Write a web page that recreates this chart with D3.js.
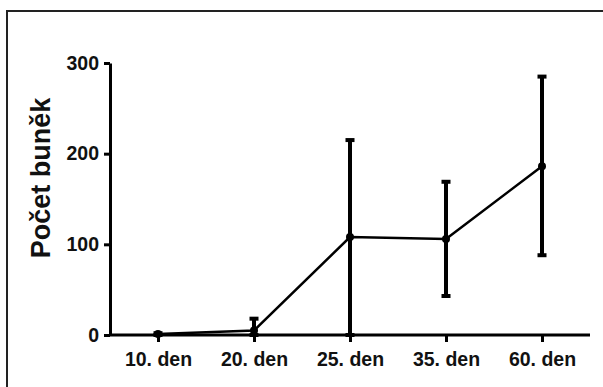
<!DOCTYPE html>
<html>
<head>
<meta charset="utf-8">
<script src="https://cdn.jsdelivr.net/npm/d3@7"></script>
<style>
  html, body { margin: 0; padding: 0; background: #fff; }
  svg text { font-family: "Liberation Sans", Arial, sans-serif; font-weight: bold; fill: #111; }
</style>
</head>
<body>
<svg id="chart" width="603" height="387"></svg>
<script>
// Cell counts per sampling day: mean with lower / upper error limits
const days = ["10. den", "20. den", "25. den", "35. den", "60. den"];
const means = [1, 5, 108, 106, 186];
const lower = [0, 0, 0, 43, 88];
const upper = [2, 18, 215, 169, 285];
const yTicks = [0, 100, 200, 300];
const yTitle = "Počet buněk";

const svg = d3.select("#chart");

// outer frame
svg.append("rect")
  .attr("x", 7).attr("y", 11)
  .attr("width", 700).attr("height", 500)
  .attr("fill", "none").attr("stroke", "#222").attr("stroke-width", 2);

const x = d3.scalePoint().domain(days).range([110, 590]).padding(0.5);
const y = d3.scaleLinear().domain([0, 300]).range([335, 63]);

// y axis
const yAxis = svg.append("g")
  .attr("transform", "translate(110,0)")
  .call(d3.axisLeft(y).tickValues(yTicks).tickSize(6).tickPadding(5).tickSizeOuter(0));
yAxis.selectAll("path, line").attr("stroke", "#000").attr("stroke-width", 3);
yAxis.selectAll("text").style("font-size", "19.5px");

// x axis
const xAxis = svg.append("g")
  .attr("transform", "translate(0,335)")
  .call(d3.axisBottom(x).tickSize(7).tickPadding(10).tickSizeOuter(0));
xAxis.select("path").attr("d", "M110,0H590");
xAxis.selectAll("path, line").attr("stroke", "#000").attr("stroke-width", 3);
xAxis.selectAll("text").style("font-size", "19.5px");

// y title
svg.append("text")
  .attr("transform", "translate(50,178) rotate(-90)")
  .attr("text-anchor", "middle")
  .style("font-size", "27px")
  .text(yTitle);

const pts = days.map((d, i) => ({ day: d, m: means[i], lo: lower[i], hi: upper[i] }));

// error bars
const eb = svg.append("g").attr("stroke", "#000");
eb.selectAll("line.v").data(pts).join("line")
  .attr("class", "v")
  .attr("x1", d => x(d.day)).attr("x2", d => x(d.day))
  .attr("y1", d => y(d.lo)).attr("y2", d => y(d.hi))
  .attr("stroke-width", 4);
eb.selectAll("line.cap").data(pts.flatMap(d => [{ day: d.day, v: d.hi }, { day: d.day, v: d.lo }]))
  .join("line")
  .attr("class", "cap")
  .attr("x1", d => x(d.day) - 4.5).attr("x2", d => x(d.day) + 4.5)
  .attr("y1", d => y(d.v)).attr("y2", d => y(d.v))
  .attr("stroke-width", 4);

// connecting line of the means
svg.append("path")
  .datum(pts)
  .attr("fill", "none").attr("stroke", "#000").attr("stroke-width", 2.5)
  .attr("d", d3.line().x(d => x(d.day)).y(d => y(d.m)));

// markers
svg.selectAll("circle.pt").data(pts).join("circle")
  .attr("class", "pt")
  .attr("cx", d => x(d.day)).attr("cy", d => y(d.m))
  .attr("r", 4).attr("fill", "#000");
</script>
</body>
</html>
